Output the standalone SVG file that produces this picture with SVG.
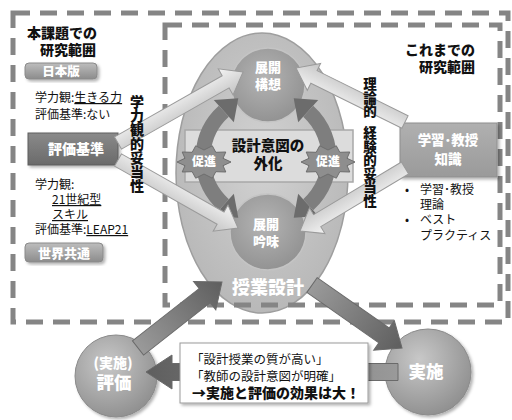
<svg xmlns="http://www.w3.org/2000/svg" width="512" height="420" viewBox="0 0 512 420">
<defs>
<style>
text{font-family:"Noto Sans CJK JP","Noto Sans CJK SC",sans-serif;}
.b{font-weight:900;}
.w{fill:#fff;font-weight:900;}
.k{fill:#111;}
.dash{fill:none;stroke:#858585;stroke-width:5;stroke-dasharray:17 10;}
.la{fill:url(#gLight);stroke:#9a9a9a;stroke-width:1;}
.da{fill:url(#gDark);stroke:#6a6a6a;stroke-width:1;}
.ring{fill:none;stroke:#7e7e7e;stroke-width:15;}
.btn{fill:url(#gBtn);stroke:#8a8a8a;stroke-width:1;}
.u{text-decoration:underline;}
</style>
<linearGradient id="gLight" x1="0" y1="0" x2="0" y2="1"><stop offset="0" stop-color="#f4f4f4"/><stop offset="1" stop-color="#c4c4c4"/></linearGradient>
<linearGradient id="gDark" x1="0" y1="0" x2="1" y2="0"><stop offset="0" stop-color="#9a9a9a"/><stop offset="1" stop-color="#5e5e5e"/></linearGradient>
<linearGradient id="gBtn" x1="0" y1="0" x2="0" y2="1"><stop offset="0" stop-color="#bdbdbd"/><stop offset="1" stop-color="#8c8c8c"/></linearGradient>
<linearGradient id="gBox" x1="0" y1="0" x2="0" y2="1"><stop offset="0" stop-color="#8a8a8a"/><stop offset="1" stop-color="#6a6a6a"/></linearGradient>
<linearGradient id="gBox2" x1="0" y1="0" x2="0" y2="1"><stop offset="0" stop-color="#b0b0b0"/><stop offset="1" stop-color="#9a9a9a"/></linearGradient>
<radialGradient id="gEll" cx="0.5" cy="0.45" r="0.6"><stop offset="0" stop-color="#d2d2d2"/><stop offset="1" stop-color="#b6b6b6"/></radialGradient>
<radialGradient id="gCirc" cx="0.45" cy="0.4" r="0.65"><stop offset="0" stop-color="#b4b4b4"/><stop offset="1" stop-color="#909090"/></radialGradient>
<radialGradient id="gBall" cx="0.4" cy="0.35" r="0.7"><stop offset="0" stop-color="#c8c8c8"/><stop offset="1" stop-color="#8e8e8e"/></radialGradient>
<marker id="mh" markerUnits="strokeWidth" markerWidth="2" markerHeight="2" refX="0" refY="1" orient="auto" viewBox="0 0 1.3 2"><path d="M0,0 L1.3,1 L0,2Z" fill="#6c6c6c"/></marker>
<polygon id="star" points="27,0 19,3.7 21.8,10 11.8,9.7 8.3,16.2 0,12 -8.3,16.2 -11.8,9.7 -21.8,10 -19,3.7 -27,0 -19,-3.7 -21.8,-10 -11.8,-9.7 -8.3,-16.2 0,-12 8.3,-16.2 11.8,-9.7 21.8,-10 19,-3.7" fill="#8e8e8e" stroke="#6e6e6e" stroke-width="1"/>
<filter id="sh" x="-10%" y="-10%" width="125%" height="130%"><feDropShadow dx="2" dy="2" stdDeviation="1.5" flood-color="#000" flood-opacity="0.3"/></filter>
</defs>

<g id="node-lesson-design">
<ellipse cx="262" cy="173" rx="86" ry="140" fill="url(#gEll)" stroke="#9e9e9e" stroke-width="1.5"/>
</g>

<g id="scopes">
<path class="dash" d="M13,13 H508 V322 H13 Z"/>
<path class="dash" d="M165,25 H500 V305 H165 Z"/>
</g>

<g id="node-tenkai-koso">
<circle cx="268" cy="85" r="37" fill="url(#gCirc)" stroke="#c4c4c4" stroke-width="1.5"/>
<text class="w" x="268" y="72" font-size="13" text-anchor="middle">展開</text>
<text class="w" x="268" y="89" font-size="13" text-anchor="middle">構想</text>
</g>

<g id="node-tenkai-ginmi">
<circle cx="268" cy="232" r="38" fill="url(#gCirc)" stroke="#c4c4c4" stroke-width="1.5"/>
<text class="w" x="266" y="229" font-size="13" text-anchor="middle">展開</text>
<text class="w" x="266" y="246" font-size="13" text-anchor="middle">吟味</text>
</g>

<g id="node-externalize">
<rect x="185" y="130" width="168" height="52" fill="#dcdcdc" stroke="#a8a8a8" stroke-width="1.5"/>
</g>

<g id="cycle-connectors">
<path class="ring" d="M203.2,152.5 A63,63 0 0 1 223.8,111.2" marker-end="url(#mh)"/>
<path class="ring" d="M328.8,163.5 A63,63 0 0 0 308.2,111.2" marker-end="url(#mh)"/>
<path class="ring" d="M203.2,163.5 A63,63 0 0 0 223.8,204.8" marker-end="url(#mh)"/>
<path class="ring" d="M328.8,152.5 A63,63 0 0 1 308.2,204.8" marker-end="url(#mh)"/>
</g>

<g id="node-externalize-label">
<text class="b k" x="268" y="151" font-size="14.5" text-anchor="middle">設計意図の</text>
<text class="b k" x="268" y="169" font-size="14.5" text-anchor="middle">外化</text>
</g>

<g id="node-sokushin-left">
<use href="#star" x="204" y="162"/>
<text class="w" x="204" y="166" font-size="12" text-anchor="middle">促進</text>
</g>
<g id="node-sokushin-right">
<use href="#star" x="328" y="162"/>
<text class="w" x="328" y="166" font-size="12" text-anchor="middle">促進</text>
</g>

<g id="node-hyoka-kijun">
<rect x="28" y="133" width="90" height="32" fill="url(#gBox)" stroke="#5e5e5e" stroke-width="1" filter="url(#sh)"/>
<text class="w" x="76" y="154" font-size="14" text-anchor="middle">評価基準</text>
</g>

<g id="node-knowledge">
<rect x="400" y="123" width="97" height="54" fill="url(#gBox2)" stroke="#8e8e8e" stroke-width="1" filter="url(#sh)"/>
<text class="w" x="448" y="145" font-size="13.5" text-anchor="middle">学習･教授</text>
<text class="w" x="448" y="164" font-size="13.5" text-anchor="middle">知識</text>
</g>

<g id="validity-connectors">
<path class="la" transform="translate(118,143) rotate(-29.6)" d="M0,-7 H123.8 V-15 L143.8,0 L123.8,15 V7 H0Z"/>
<path class="la" transform="translate(118,160) rotate(29.54)" d="M0,-7 H117.9 V-15 L137.9,0 L117.9,15 V7 H0Z"/>
<path class="la" transform="translate(405,122) rotate(-153.65)" d="M0,-7 H101.6 V-15 L121.6,0 L101.6,15 V7 H0Z"/>
<path class="la" transform="translate(405,168) rotate(149.04)" d="M0,-7 H102.4 V-15 L122.4,0 L102.4,15 V7 H0Z"/>
</g>

<g id="label-gakuryokukan">
<text class="b k" x="130" y="107" font-size="14" transform="rotate(90 130 107)" rotate="-90">学力観的妥当性</text>
</g>
<g id="label-riron">
<text class="b k" x="363.3" y="89" font-size="13.5" transform="rotate(90 363.3 89)" rotate="-90">理論的</text>
<text class="b k" x="363.3" y="138" font-size="13.5" transform="rotate(90 363.3 138)" rotate="-90">経験的妥当性</text>
</g>

<g id="left-scope-labels">
<text class="b k" x="27" y="38" font-size="14">本課題での</text>
<text class="b k" x="40" y="55" font-size="14">研究範囲</text>
<rect class="btn" x="25" y="63" width="72" height="16" rx="4" filter="url(#sh)"/>
<text class="w" x="61" y="76" font-size="12.5" text-anchor="middle">日本版</text>
<text class="k" x="35" y="102" font-size="12">学力観:<tspan class="u">生きる力</tspan></text>
<text class="k" x="35" y="119" font-size="12">評価基準:ない</text>
<text class="k" x="35" y="189" font-size="12">学力観:</text>
<text class="k u" x="52" y="204" font-size="12">21世紀型</text>
<text class="k u" x="52" y="219" font-size="12">スキル</text>
<text class="k" x="35" y="234" font-size="12">評価基準:<tspan class="u">LEAP21</tspan></text>
<rect class="btn" x="25" y="243" width="78" height="19" rx="4" filter="url(#sh)"/>
<text class="w" x="64" y="257.5" font-size="13" text-anchor="middle">世界共通</text>
</g>

<g id="right-scope-labels">
<text class="b k" x="475" y="55" font-size="14" text-anchor="end">これまでの</text>
<text class="b k" x="475" y="72" font-size="14" text-anchor="end">研究範囲</text>
<text class="k" x="405" y="194" font-size="12">•</text>
<text class="k" x="420" y="194" font-size="12">学習･教授</text>
<text class="k" x="420" y="209" font-size="12">理論</text>
<text class="k" x="405" y="224" font-size="12">•</text>
<text class="k" x="420" y="224" font-size="12">ベスト</text>
<text class="k" x="420" y="240" font-size="12">プラクティス</text>
</g>

<g id="node-hyoka">
<circle cx="116" cy="376" r="41" fill="url(#gBall)" stroke="#8a8a8a" stroke-width="1" filter="url(#sh)"/>
<text class="w" x="113" y="368" font-size="14" text-anchor="middle">(実施)</text>
<text class="w" x="114" y="389" font-size="17.5" text-anchor="middle">評価</text>
</g>

<g id="node-jisshi">
<circle cx="428" cy="372" r="43" fill="url(#gBall)" stroke="#8a8a8a" stroke-width="1" filter="url(#sh)"/>
<text class="w" x="426" y="378" font-size="17.5" text-anchor="middle">実施</text>
</g>

<g id="cycle-main-connectors">
<path class="da" transform="translate(138,348) rotate(-38.16)" d="M0,-9 H84.8 V-18 L106.8,0 L84.8,18 V9 H0Z"/>
<path class="da" transform="translate(312,285) rotate(34.99)" d="M0,-9 H87.9 V-18 L109.9,0 L87.9,18 V9 H0Z"/>
<path class="da" transform="translate(398,372) rotate(180)" d="M0,-8.5 H226 V-17 L252,0 L226,17 V8.5 H0Z"/>
</g>

<g id="node-lesson-design-label">
<text class="w" x="268" y="294" font-size="18" text-anchor="middle">授業設計</text>
</g>

<g id="node-effect-note">
<rect x="180" y="343" width="188" height="60" fill="#fff" stroke="#9a9a9a" stroke-width="1" filter="url(#sh)"/>
<text class="k" x="191" y="364" font-size="12.5">「設計授業の質が高い」</text>
<text class="k" x="191" y="381" font-size="12.5">「教師の設計意図が明確」</text>
<text class="b k" x="192" y="398" font-size="14">→実施と評価の効果は大！</text>
</g>
</svg>
